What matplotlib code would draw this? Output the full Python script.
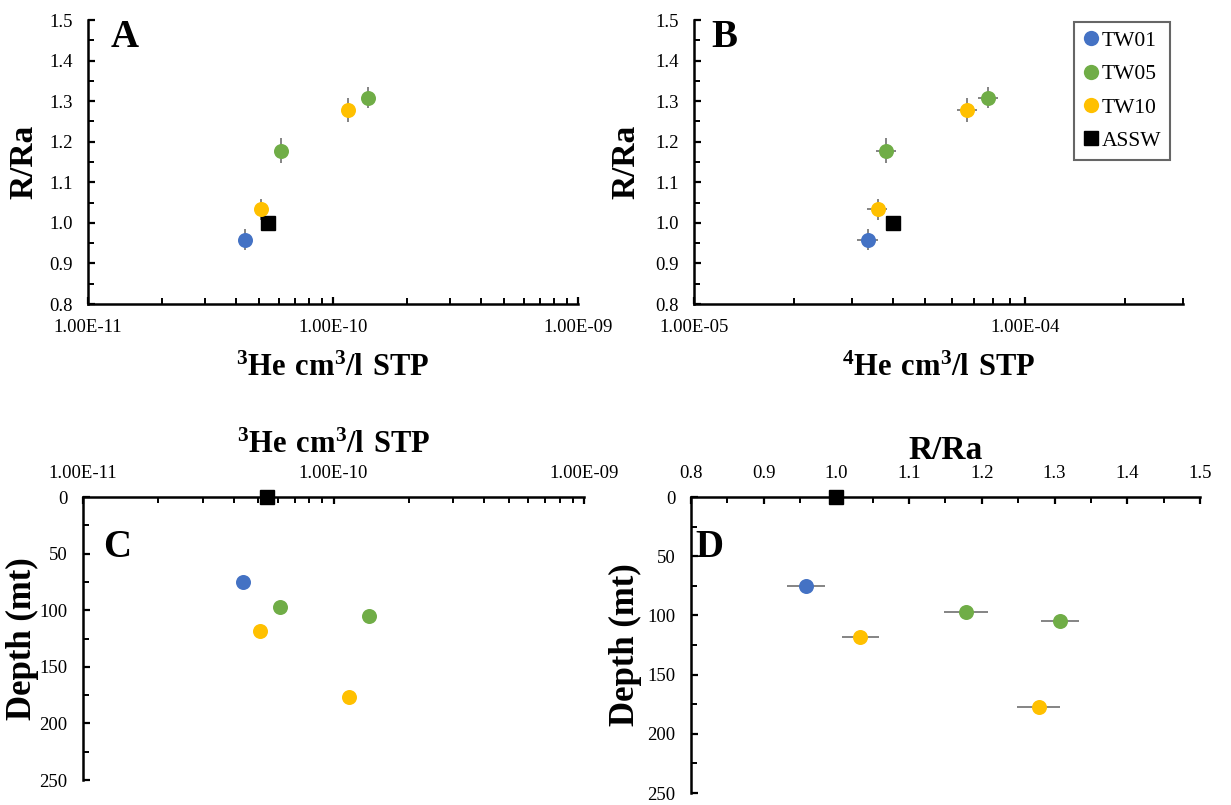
import numpy as np
import matplotlib.pyplot as plt
from matplotlib.ticker import (FixedLocator, LogLocator, FuncFormatter, MultipleLocator,
                               NullFormatter)
from matplotlib.lines import Line2D

plt.rcParams['font.family'] = ['Liberation Serif', 'DejaVu Serif']
plt.rcParams['mathtext.fontset'] = 'custom'
plt.rcParams['mathtext.rm'] = 'Liberation Serif'
plt.rcParams['mathtext.bf'] = 'Liberation Serif:bold'

# noble gas results per well
wells = ['TW01', 'TW05', 'TW05', 'TW10', 'TW10']
he3 = [4.37e-11, 6.13e-11, 1.39e-10, 5.08e-11, 1.15e-10]     # cm3/l STP
he4 = [3.35e-5, 3.80e-5, 7.74e-5, 3.59e-5, 6.70e-5]          # cm3/l STP
r_ra = [0.958, 1.178, 1.308, 1.033, 1.278]
r_ra_err = [0.026, 0.030, 0.026, 0.025, 0.030]
depth = [75, 97, 105, 118, 177]                               # m

# air saturated sea water reference
assw_he3 = 5.43e-11
assw_he4 = 3.99e-5
assw_r = 1.0
assw_depth = 0

he3_ticks = [1e-11, 1e-10, 1e-9]
he4_ticks = [1e-5, 1e-4]

colors = {'TW01': '#4472C4', 'TW05': '#70AD47', 'TW10': '#FFC000'}
err_col = '#707070'
ms = 10.8
ebar = dict(ecolor=err_col, elinewidth=1.2, capsize=3.5, capthick=1.2)

fig = plt.figure(figsize=(12.31, 8.05), dpi=100)
W, H = 1231, 805


def box(l, r, t, b):
    return [l / W, 1 - b / H, (r - l) / W, (b - t) / H]


axA = fig.add_axes(box(88, 578, 20, 304))
axB = fig.add_axes(box(694, 1183, 20, 304))
axC = fig.add_axes(box(83, 584, 497, 780))
axD = fig.add_axes(box(691, 1200, 497, 793))

sci = FuncFormatter(lambda v, p: f'{v:.2E}')
one_dec = FuncFormatter(lambda v, p: f'{v:.1f}')


def style(ax, top=False):
    for s in ['left', 'top', 'bottom', 'right']:
        ax.spines[s].set_linewidth(1.8)
        ax.spines[s].set_color('black')
    if top:
        ax.spines['bottom'].set_visible(False)
        ax.xaxis.set_ticks_position('top')
        ax.xaxis.set_label_position('top')
    else:
        ax.spines['top'].set_visible(False)
    ax.spines['right'].set_visible(False)
    ax.tick_params(which='major', direction='in', length=5, width=1.6,
                   labelsize=13.5, pad=11)
    ax.tick_params(which='minor', direction='in', length=4, width=1.4)


def log_x(ax, lo, hi, majors):
    ax.set_xscale('log')
    ax.set_xlim(lo, hi)
    ax.xaxis.set_major_locator(FixedLocator(majors))
    ax.xaxis.set_minor_locator(LogLocator(base=10, subs=np.arange(2, 10), numticks=20))
    ax.xaxis.set_major_formatter(sci)
    ax.xaxis.set_minor_formatter(NullFormatter())


def rra_y(ax):
    ax.set_ylim(0.8, 1.5)
    ax.yaxis.set_major_locator(MultipleLocator(0.1))
    ax.yaxis.set_minor_locator(MultipleLocator(0.05))
    ax.yaxis.set_major_formatter(one_dec)


def depth_y(ax):
    ax.set_ylim(250, 0)
    ax.yaxis.set_major_locator(MultipleLocator(50))
    ax.yaxis.set_minor_locator(MultipleLocator(25))


xlab = dict(fontsize=22, fontweight='bold')
ylab = dict(fontsize=24, fontweight='bold')
dlab = dict(fontsize=25, fontweight='bold')
letter = dict(fontsize=28, fontweight='bold')
he3_label = r'$\mathbf{^{3}He\ cm^{3}/l\ STP}$'
he4_label = r'$\mathbf{^{4}He\ cm^{3}/l\ STP}$'

# A: R/Ra vs 3He
for i, w in enumerate(wells):
    axA.errorbar(he3[i], r_ra[i], yerr=r_ra_err[i], fmt='o', color=colors[w],
                 ms=ms, mew=0, **ebar)
axA.plot(assw_he3, assw_r, 's', color='black', ms=10)
style(axA)
log_x(axA, 1e-11, 1e-9, he3_ticks)
rra_y(axA)
axA.set_xlabel(he3_label, **xlab)
axA.set_ylabel('R/Ra', **ylab)
axA.xaxis.set_label_coords(0.5, -0.175)
axA.yaxis.set_label_coords(-0.1, 0.5)
axA.text(0.075, 0.94, 'A', transform=axA.transAxes, ha='center', va='center', **letter)

# B: R/Ra vs 4He
for i, w in enumerate(wells):
    axB.errorbar(he4[i], r_ra[i], yerr=r_ra_err[i], xerr=he4[i] * 0.07, fmt='o',
                 color=colors[w], ms=ms, mew=0, **ebar)
axB.plot(assw_he4, assw_r, 's', color='black', ms=10)
style(axB)
log_x(axB, 1e-5, 3e-4, he4_ticks)
rra_y(axB)
axB.set_xlabel(he4_label, **xlab)
axB.set_ylabel('R/Ra', **ylab)
axB.xaxis.set_label_coords(0.5, -0.175)
axB.yaxis.set_label_coords(-0.108, 0.5)
axB.text(0.063, 0.94, 'B', transform=axB.transAxes, ha='center', va='center', **letter)

handles = [Line2D([], [], marker='o', ls='', color=colors[k], ms=11, mew=0)
           for k in ['TW01', 'TW05', 'TW10']]
handles.append(Line2D([], [], marker='s', ls='', color='black', ms=10))
leg = axB.legend(handles, ['TW01', 'TW05', 'TW10', 'ASSW'], loc='upper right',
                 bbox_to_anchor=(0.973, 0.993), borderaxespad=0, fontsize=15.5,
                 frameon=True, fancybox=False, edgecolor='#404040', handlelength=0.8,
                 handletextpad=0.1, labelspacing=0.62, borderpad=0.4)
leg.get_frame().set_linewidth(1.5)

# C: depth vs 3He
for i, w in enumerate(wells):
    axC.plot(he3[i], depth[i], 'o', color=colors[w], ms=ms, mew=0)
axC.plot(assw_he3, assw_depth, 's', color='black', ms=10, clip_on=False, zorder=5)
style(axC, top=True)
log_x(axC, 1e-11, 1e-9, he3_ticks)
depth_y(axC)
axC.set_xlabel(he3_label, **xlab)
axC.set_ylabel('Depth (mt)', **dlab)
axC.xaxis.set_label_coords(0.5, 1.155)
axC.yaxis.set_label_coords(-0.087, 0.5)
axC.text(0.068, 0.82, 'C', transform=axC.transAxes, ha='center', va='center', **letter)

# D: depth vs R/Ra
for i, w in enumerate(wells):
    axD.errorbar(r_ra[i], depth[i], xerr=r_ra_err[i], fmt='o', color=colors[w],
                 ms=ms, mew=0, **ebar)
axD.plot(assw_r, assw_depth, 's', color='black', ms=10, clip_on=False, zorder=5)
style(axD, top=True)
axD.set_xlim(0.8, 1.5)
axD.xaxis.set_major_locator(MultipleLocator(0.1))
axD.xaxis.set_minor_locator(MultipleLocator(0.05))
axD.xaxis.set_major_formatter(one_dec)
depth_y(axD)
axD.set_xlabel('R/Ra', **ylab)
axD.set_ylabel('Depth (mt)', **dlab)
axD.xaxis.set_label_coords(0.5, 1.13)
axD.yaxis.set_label_coords(-0.096, 0.5)
axD.text(0.037, 0.83, 'D', transform=axD.transAxes, ha='center', va='center', **letter)

fig.savefig('out.png', dpi=100, facecolor='white')
